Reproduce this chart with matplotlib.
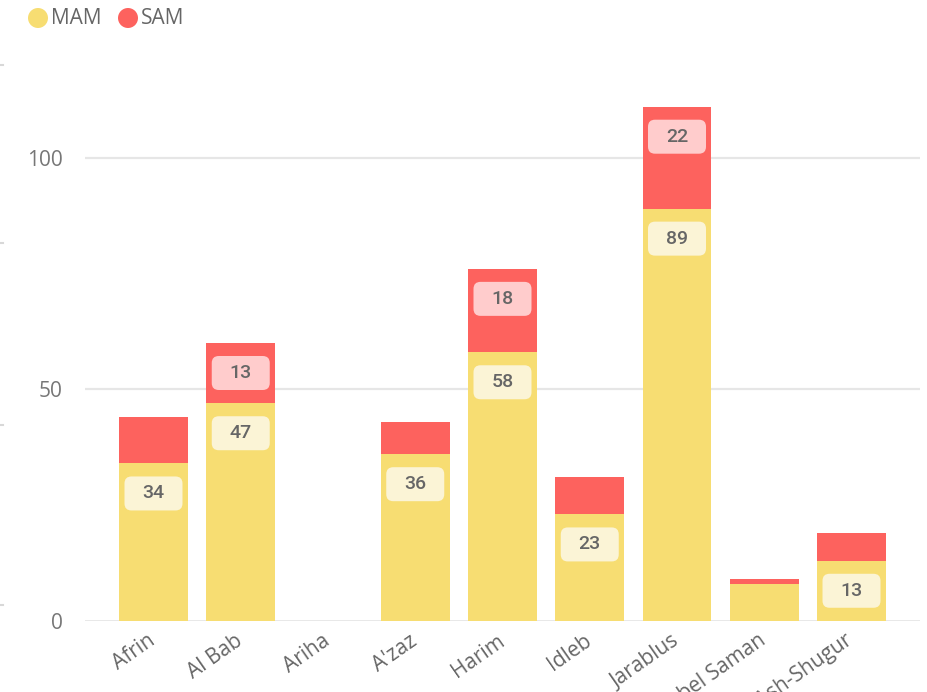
import matplotlib
matplotlib.use("Agg")
import matplotlib.pyplot as plt
import matplotlib.transforms as mtransforms
from matplotlib.patches import FancyBboxPatch, Circle
from matplotlib.lines import Line2D

categories = ["Afrin", "Al Bab", "Ariha", "A'zaz", "Harim", "Idleb", "Jarablus",
              "Jebel Saman", "Jisr Ash-Shugur"]
mam = [34, 47, 0, 36, 58, 23, 89, 8, 13]
sam = [10, 13, 0, 7, 18, 8, 22, 1, 6]
yticks = [0, 50, 100]
series_names = ["MAM", "SAM"]

C_MAM = "#F7DD72"
C_SAM = "#FD625E"
B_MAM = "#FBF4D6"
B_SAM = "#FFCCCC"
TXT = "#666666"

W, H, DPI = 928, 692, 100
fig = plt.figure(figsize=(W / DPI, H / DPI), dpi=DPI)

left, right, top, bottom = 85, 920, 65, 621
ax = fig.add_axes([left / W, 1 - bottom / H, (right - left) / W, (bottom - top) / H])

x = list(range(len(categories)))
ax.bar(x, mam, width=0.79, color=C_MAM, zorder=2)
ax.bar(x, sam, width=0.79, bottom=mam, color=C_SAM, zorder=2)

ax.set_xlim(-0.785, 8.785)
ax.set_ylim(0, 120)
ax.set_yticks(yticks)
ax.set_yticklabels([str(t) for t in yticks])
for t in yticks:
    ax.axhline(t, color="#E6E6E6", lw=1.6 if t else 2.0, zorder=1)

for s in ax.spines.values():
    s.set_visible(False)
ax.tick_params(axis="y", length=0, pad=16, labelsize=15, labelcolor="#777777")
ax.tick_params(axis="x", length=0, pad=4, labelsize=15, labelcolor=TXT)
ax.set_xticks(x)
ax.set_xticklabels(categories, rotation=35, ha="right", va="top",
                   rotation_mode="anchor")
for lbl in ax.get_xticklabels():
    lbl.set_family(["Open Sans", "DejaVu Sans"])
    lbl.set_transform(lbl.get_transform() + mtransforms.Affine2D().translate(-6, -4))
for lbl in ax.get_yticklabels():
    lbl.set_family(["Open Sans", "DejaVu Sans"])


def badge(xc, ytop, val, fc):
    tr = mtransforms.Affine2D().translate(0, -30) + mtransforms.ScaledTranslation(xc, ytop, ax.transData)
    p = FancyBboxPatch((-29, -17), 58, 34, boxstyle="round,pad=0,rounding_size=7",
                       fc=fc, ec="none", transform=tr, zorder=3, clip_on=False)
    ax.add_patch(p)
    ax.text(0, 0, str(val), transform=tr, ha="center", va="center", fontsize=14,
            color=TXT, family=["Roboto", "DejaVu Sans"], fontweight="medium", zorder=4)


for i in x:
    if mam[i] > 10:
        badge(i, mam[i], mam[i], B_MAM)
    if sam[i] > 10:
        badge(i, mam[i] + sam[i], sam[i], B_SAM)

# legend
lx = [38, 128]
for name, cx, col in zip(series_names, lx, [C_MAM, C_SAM]):
    fig.patches.append(Circle((cx / DPI, (H - 18) / DPI), 10 / DPI,
                              transform=fig.dpi_scale_trans, fc=col, ec="none"))
    fig.text((cx + 13) / W, 1 - 18 / H, name, ha="left", va="center", fontsize=15,
             color=TXT, family=["Open Sans", "DejaVu Sans"])

# faint marks at left edge
for yy in [65, 243, 425, 605]:
    fig.add_artist(Line2D([0, 3 / W], [1 - yy / H, 1 - yy / H], color="#D8D8D8", lw=1.5,
                          transform=fig.transFigure))

fig.savefig("out.png", dpi=DPI)
